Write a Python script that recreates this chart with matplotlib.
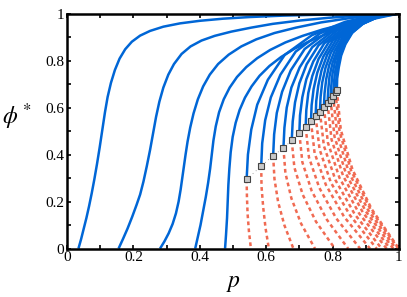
import matplotlib
matplotlib.use("Agg")
import matplotlib.pyplot as plt
import numpy as np

plt.rcParams['font.family'] = ['Liberation Serif', 'DejaVu Serif']
plt.rcParams['mathtext.fontset'] = 'stix'

# ---------------- Data ----------------
# continuous curves (no fold), (p, phi) pairs
c1_p   = [0.034, 0.042, 0.050, 0.058, 0.066, 0.074, 0.082, 0.090, 0.098, 0.106, 0.114, 0.122, 0.132, 0.144,
          0.158, 0.175, 0.195, 0.220, 0.250, 0.290, 0.340, 0.400, 0.470, 0.550, 0.650, 0.760, 0.880, 1.0]
c1_phi = [0.000, 0.040, 0.085, 0.130, 0.180, 0.235, 0.295, 0.360, 0.430, 0.505, 0.580, 0.645, 0.705, 0.760,
          0.808, 0.848, 0.880, 0.906, 0.926, 0.944, 0.958, 0.969, 0.978, 0.985, 0.991, 0.995, 0.998, 1.0]
c2_p   = [0.155, 0.168, 0.182, 0.196, 0.209, 0.220, 0.230, 0.240, 0.250, 0.259, 0.268, 0.278, 0.290, 0.305,
          0.322, 0.345, 0.372, 0.405, 0.445, 0.495, 0.555, 0.620, 0.700, 0.790, 0.890, 1.0]
c2_phi = [0.000, 0.040, 0.085, 0.135, 0.185, 0.230, 0.285, 0.350, 0.420, 0.490, 0.560, 0.625, 0.685, 0.740,
          0.785, 0.828, 0.860, 0.885, 0.905, 0.923, 0.940, 0.956, 0.970, 0.982, 0.992, 1.0]
c3_p   = [0.280, 0.293, 0.306, 0.318, 0.328, 0.336, 0.342, 0.347, 0.352, 0.357, 0.363, 0.371, 0.381, 0.394,
          0.410, 0.430, 0.455, 0.487, 0.525, 0.570, 0.625, 0.690, 0.765, 0.850, 0.930, 1.0]
c3_phi = [0.000, 0.030, 0.065, 0.105, 0.150, 0.200, 0.250, 0.300, 0.350, 0.400, 0.455, 0.515, 0.575, 0.635,
          0.690, 0.740, 0.785, 0.825, 0.860, 0.890, 0.917, 0.940, 0.962, 0.980, 0.993, 1.0]
c4_p   = [0.386, 0.394, 0.402, 0.410, 0.418, 0.425, 0.431, 0.436, 0.441, 0.448, 0.458, 0.472, 0.490, 0.512,
          0.540, 0.573, 0.612, 0.658, 0.710, 0.770, 0.840, 0.920, 1.0]
c4_phi = [0.000, 0.050, 0.100, 0.160, 0.220, 0.280, 0.340, 0.400, 0.460, 0.520, 0.580, 0.635, 0.685, 0.730,
          0.772, 0.810, 0.845, 0.877, 0.905, 0.932, 0.957, 0.981, 1.0]
c5_p   = [0.476, 0.479, 0.482, 0.484, 0.486, 0.489, 0.493, 0.499, 0.508, 0.520, 0.536, 0.556, 0.580, 0.610,
          0.645, 0.685, 0.730, 0.780, 0.840, 0.915, 1.0]
c5_phi = [0.000, 0.060, 0.130, 0.200, 0.270, 0.340, 0.410, 0.475, 0.535, 0.590, 0.642, 0.690, 0.735, 0.777,
          0.815, 0.850, 0.882, 0.912, 0.945, 0.975, 1.0]

# fold points (squares)
fold_p   = [0.541, 0.585, 0.621, 0.652, 0.677, 0.700, 0.719, 0.735, 0.749, 0.762, 0.774, 0.785, 0.794, 0.802, 0.809, 0.813]
fold_phi = [0.294, 0.351, 0.395, 0.428, 0.460, 0.491, 0.517, 0.541, 0.562, 0.582, 0.601, 0.618, 0.634, 0.649, 0.664, 0.674]

# stable (upper) branches, from the fold up to (1, 1)
up_p = [
    [.541, .545, .555, .573, .605, .656, .738, .839, .931, 1],
    [.585, .588, .597, .614, .643, .689, .763, .855, .938, 1],
    [.621, .624, .632, .648, .674, .716, .784, .867, .943, 1],
    [.652, .655, .662, .676, .701, .739, .802, .878, .948, 1],
    [.677, .680, .687, .700, .722, .758, .816, .887, .952, 1],
    [.700, .702, .709, .721, .742, .775, .829, .895, .955, 1],
    [.719, .721, .727, .739, .758, .789, .840, .902, .958, 1],
    [.735, .737, .743, .754, .772, .801, .849, .907, .960, 1],
    [.749, .751, .757, .767, .784, .812, .857, .912, .962, 1],
    [.762, .764, .769, .779, .795, .822, .864, .917, .964, 1],
    [.774, .776, .781, .790, .806, .831, .871, .921, .966, 1],
    [.785, .787, .791, .800, .815, .839, .877, .925, .968, 1],
    [.794, .796, .800, .808, .823, .846, .883, .928, .969, 1],
    [.802, .804, .808, .816, .830, .852, .887, .931, .970, 1],
    [.809, .811, .815, .822, .836, .857, .891, .933, .971, 1],
    [.813, .814, .819, .826, .839, .860, .893, .935, .972, 1],
]
up_phi = [
    [.294, .400, .506, .612, .718, .824, .908, .965, .993, 1],
    [.351, .448, .546, .643, .740, .838, .916, .968, .994, 1],
    [.395, .486, .577, .667, .758, .849, .921, .970, .994, 1],
    [.428, .514, .600, .685, .771, .857, .926, .971, .994, 1],
    [.460, .541, .622, .703, .784, .865, .930, .973, .995, 1],
    [.491, .567, .644, .720, .796, .873, .934, .975, .995, 1],
    [.517, .589, .662, .734, .807, .879, .937, .976, .995, 1],
    [.541, .610, .679, .748, .816, .885, .940, .977, .995, 1],
    [.562, .628, .693, .759, .825, .891, .943, .978, .996, 1],
    [.582, .645, .707, .770, .833, .896, .946, .979, .996, 1],
    [.601, .661, .721, .781, .840, .900, .948, .980, .996, 1],
    [.618, .675, .733, .790, .847, .905, .950, .981, .996, 1],
    [.634, .689, .744, .799, .854, .909, .952, .982, .996, 1],
    [.649, .702, .754, .807, .860, .912, .954, .982, .996, 1],
    [.664, .714, .765, .815, .866, .916, .956, .983, .997, 1],
    [.674, .723, .772, .821, .870, .919, .958, .984, .997, 1],
]

# unstable (lower) branches, from the fold down to phi = 0
lo_p = [
    [.541, .542, .544, .548, .554],
    [.585, .586, .591, .598, .608],
    [.621, .625, .636, .655, .682],
    [.652, .658, .676, .705, .747],
    [.677, .685, .710, .750, .807],
    [.700, .709, .737, .783, .847],
    [.719, .729, .760, .811, .883],
    [.735, .746, .780, .835, .913],
    [.749, .761, .795, .853, .933],
    [.762, .774, .809, .867, .948],
    [.774, .786, .821, .880, .963],
    [.785, .797, .832, .891, .973],
    [.794, .806, .841, .900, .983],
    [.802, .814, .849, .908, .991],
    [.809, .821, .856, .915, .998],
    [.813, .825, .860, .918, 1.0],
]
lo_phi = [
    [.294, .221, .147, .074, 0],
    [.351, .263, .176, .088, 0],
    [.395, .296, .198, .099, 0],
    [.428, .321, .214, .107, 0],
    [.460, .345, .230, .115, 0],
    [.491, .368, .246, .123, 0],
    [.517, .388, .259, .129, 0],
    [.541, .406, .271, .135, 0],
    [.562, .422, .281, .141, 0],
    [.582, .437, .291, .146, 0],
    [.601, .451, .301, .150, 0],
    [.618, .464, .309, .155, 0],
    [.634, .476, .317, .159, 0],
    [.649, .487, .325, .162, 0],
    [.664, .498, .332, .166, 0],
    [.674, .505, .337, .168, 0],
]

blue = '#0066d6'
red = '#f06a52'

fig = plt.figure(figsize=(4.07, 2.97), dpi=100)
ax = fig.add_axes([0.165, 0.163, 0.815, 0.7915])

for xs, ys in [(c1_p, c1_phi), (c2_p, c2_phi), (c3_p, c3_phi), (c4_p, c4_phi), (c5_p, c5_phi)]:
    ax.plot(xs, ys, color=blue, lw=1.8, solid_capstyle='butt')
for xs, ys in zip(up_p, up_phi):
    ax.plot(xs, ys, color=blue, lw=1.8, solid_capstyle='butt')
for xs, ys in zip(lo_p, lo_phi):
    ax.plot(xs, ys, color=red, lw=1.8, linestyle=(0, (1.5, 1.3)))

ax.plot(fold_p, fold_phi, color='#888888', lw=0.6, linestyle=(0, (1, 4)), zorder=4)
ax.plot(fold_p, fold_phi, 's', ms=5, mfc='#c8c8c8', mec='#444444', mew=0.8, zorder=5)

ax.set_xlim(0, 1)
ax.set_ylim(0, 1)
ax.set_xticks([0, 0.2, 0.4, 0.6, 0.8, 1])
ax.set_xticklabels(['0', '0.2', '0.4', '0.6', '0.8', '1'])
ax.set_yticks([0, 0.2, 0.4, 0.6, 0.8, 1])
ax.set_yticklabels(['0', '0.2', '0.4', '0.6', '0.8', '1'])
ax.set_xticks(np.arange(0.1, 1, 0.2), minor=True)
ax.set_yticks(np.arange(0.1, 1, 0.2), minor=True)
ax.tick_params(which='both', direction='in', top=True, right=True, length=3, width=1.2, labelsize=11, pad=2)
for s in ax.spines.values():
    s.set_linewidth(1.8)

ax.set_xlabel('$p$', fontsize=17)
ax.xaxis.set_label_coords(0.5, -0.105)
ax.set_ylabel('$\\phi^*$', fontsize=17, rotation=0, va='center', ha='center')
ax.yaxis.set_label_coords(-0.152, 0.56)

fig.savefig('out.png', dpi=100)
